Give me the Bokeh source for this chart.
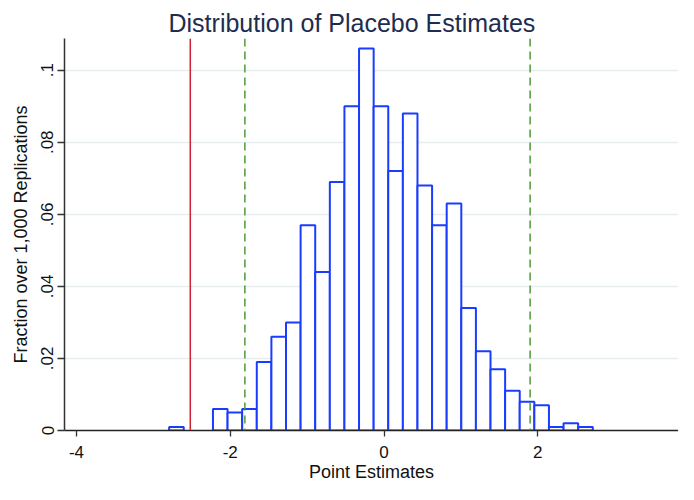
from bokeh.plotting import figure
from bokeh.models import Range1d, FixedTicker, Span
from bokeh.embed import file_html
from bokeh.resources import INLINE

# ---- data ----
bin_start = -2.795
bin_width = 0.19
fractions = [0.001, 0.0, 0.0, 0.006, 0.005, 0.006, 0.019, 0.026, 0.030, 0.057,
             0.044, 0.069, 0.090, 0.106, 0.090, 0.072, 0.088, 0.068, 0.057, 0.063,
             0.034, 0.022, 0.017, 0.011, 0.008, 0.007, 0.001, 0.002, 0.001]
actual_estimate = -2.52
placebo_lower = -1.81
placebo_upper = 1.90
x_ticks = [-4, -2, 0, 2, 4]
x_tick_labels = ["-4", "-2", "0", "2", "4"]
y_ticks = [0, 0.02, 0.04, 0.06, 0.08, 0.1]
y_tick_labels = ["0", ".02", ".04", ".06", ".08", ".1"]

lefts = [bin_start + i * bin_width for i in range(len(fractions))]
rights = [l + bin_width for l in lefts]
bottoms = [0.0] * len(fractions)

FONT = "Liberation Sans"

p = figure(width=678, height=484, output_backend="svg", toolbar_location=None,
           x_range=Range1d(-4.156, 3.83), y_range=Range1d(0, 0.1088),
           min_border_left=64, min_border_right=0, min_border_top=38, min_border_bottom=48)
p.outline_line_color = None
p.background_fill_color = "white"
p.border_fill_color = "white"

p.title.text = "Distribution of Placebo Estimates"
p.title.text_font = FONT
p.title.text_font_size = "25px"
p.title.text_font_style = "normal"
p.title.text_color = "#1e2c4e"
p.title.align = "left"
p.title.offset = 104
p.title.standoff = 4

# bars (only non-empty bins)
idx = [i for i, f in enumerate(fractions) if f > 0]
p.quad(left=[lefts[i] for i in idx], right=[rights[i] for i in idx],
       bottom=[bottoms[i] for i in idx], top=[fractions[i] for i in idx],
       fill_color="white", line_color="#1a3cff", line_width=2)

p.add_layout(Span(location=actual_estimate, dimension="height", line_color="#cc2233", line_width=1.5))
for loc in (placebo_lower, placebo_upper):
    p.add_layout(Span(location=loc, dimension="height", line_color="#4f9a33",
                      line_width=1.5, line_dash="8 5"))

# grids
p.xgrid.visible = False
p.ygrid.ticker = FixedTicker(ticks=y_ticks[1:])
p.ygrid.grid_line_color = "#e6eef0"
p.ygrid.grid_line_width = 1.3

# x axis
xa = p.xaxis[0]
xa.ticker = FixedTicker(ticks=x_ticks)
xa.major_label_overrides = {t: s for t, s in zip(x_ticks, x_tick_labels)}
xa.minor_tick_line_color = None
xa.major_tick_out = 6
xa.major_tick_in = 0
xa.major_tick_line_color = "#333333"
xa.major_tick_line_width = 1.3
xa.axis_line_color = "#222222"
xa.axis_line_width = 1.5
xa.major_label_text_font = FONT
xa.major_label_text_font_size = "17px"
xa.major_label_text_color = "#111111"
xa.major_label_standoff = 9
xa.axis_label = "Point Estimates"
xa.axis_label_text_font = FONT
xa.axis_label_text_font_size = "18px"
xa.axis_label_text_font_style = "normal"
xa.axis_label_text_color = "#111111"
xa.axis_label_standoff = 1

# y axis
ya = p.yaxis[0]
ya.ticker = FixedTicker(ticks=y_ticks)
ya.major_label_overrides = {t: s for t, s in zip(y_ticks, y_tick_labels)}
ya.minor_tick_line_color = None
ya.major_tick_out = 7
ya.major_tick_in = 0
ya.major_tick_line_color = "#333333"
ya.major_tick_line_width = 1.3
ya.axis_line_color = "#333333"
ya.axis_line_width = 1.5
ya.major_label_orientation = "vertical"
ya.major_label_text_font = FONT
ya.major_label_text_font_size = "17px"
ya.major_label_text_color = "#111111"
ya.major_label_standoff = 4
ya.axis_label = "Fraction over 1,000 Replications"
ya.axis_label_text_font = FONT
ya.axis_label_text_font_size = "18px"
ya.axis_label_text_font_style = "normal"
ya.axis_label_text_color = "#111111"
ya.axis_label_standoff = 8

open("out.html", "w").write(file_html(p, INLINE))
